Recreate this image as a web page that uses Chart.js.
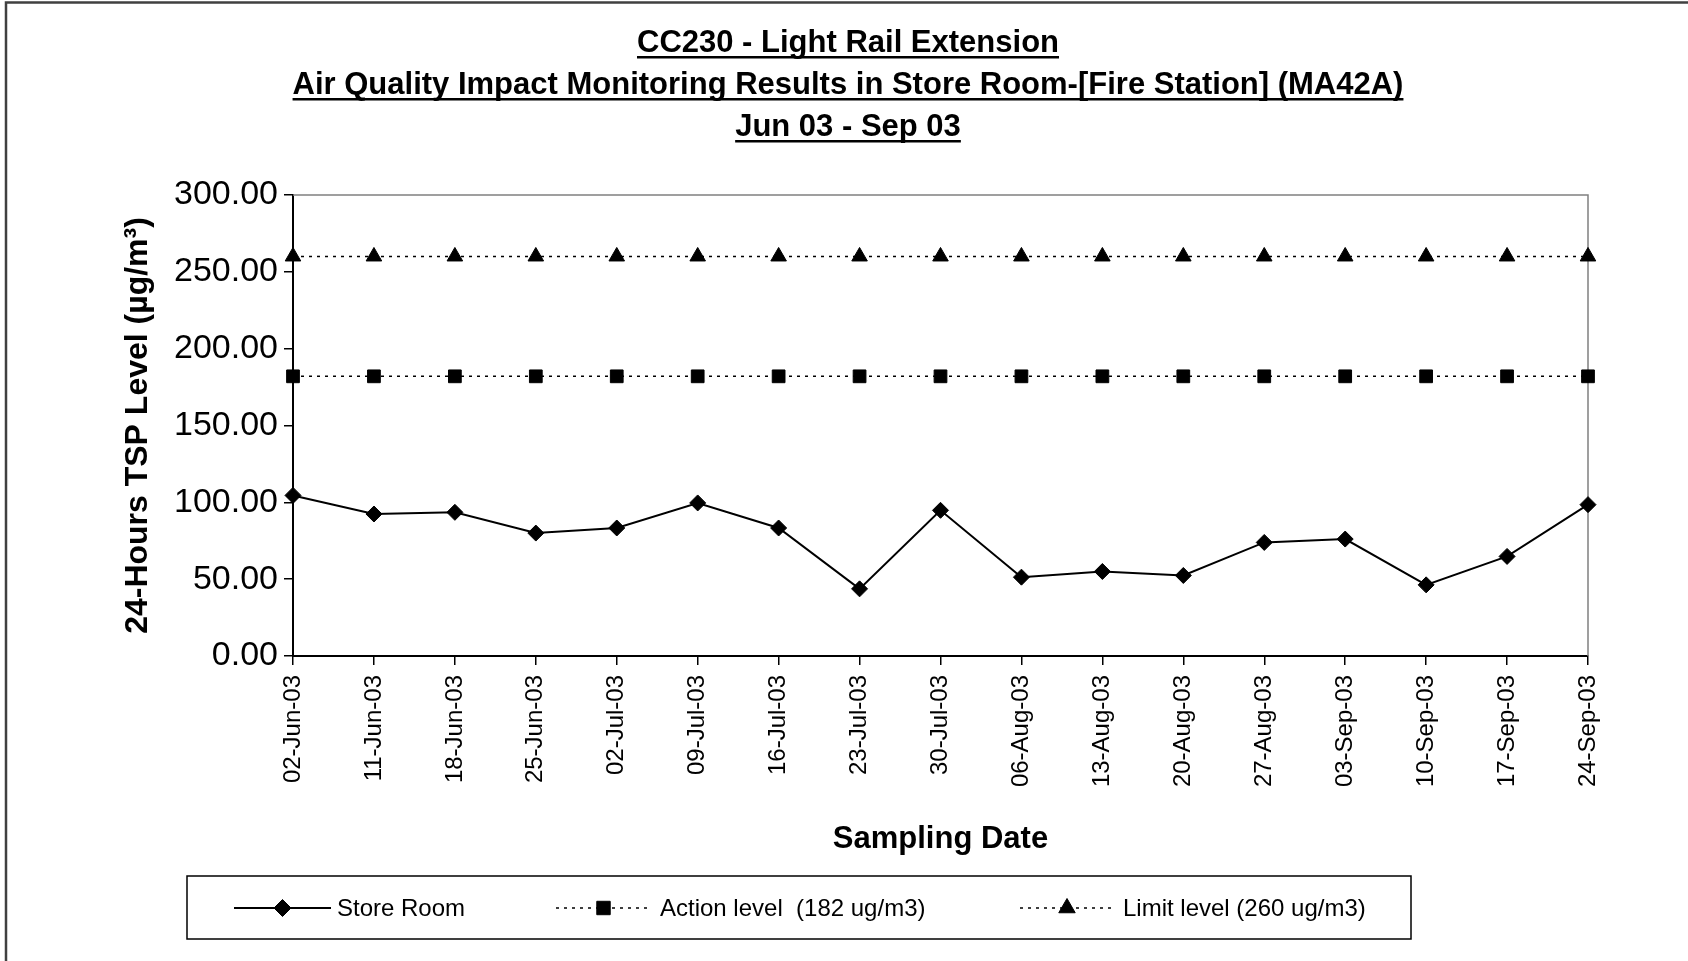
<!DOCTYPE html>
<html>
<head>
<meta charset="utf-8">
<title>CC230 - Light Rail Extension - MA42A</title>
<script src="https://cdn.jsdelivr.net/npm/chart.js@4.4.1/dist/chart.umd.min.js"></script>
<style>
  html, body { margin: 0; padding: 0; background: #ffffff; }
  canvas { display: block; }
</style>
</head>
<body>
<canvas id="grafico" width="1688" height="961"></canvas>
<script>
// fechas de muestreo (eje x)
const fechas = ['02-Jun-03', '11-Jun-03', '18-Jun-03', '25-Jun-03', '02-Jul-03', '09-Jul-03',
  '16-Jul-03', '23-Jul-03', '30-Jul-03', '06-Aug-03', '13-Aug-03', '20-Aug-03',
  '27-Aug-03', '03-Sep-03', '10-Sep-03', '17-Sep-03', '24-Sep-03'];

const storeRoom = [104.5, 92.4, 93.5, 80.0, 83.3, 99.6, 83.3, 43.7, 94.8,
  51.3, 55.0, 52.4, 73.9, 76.1, 46.3, 64.8, 98.5];

// niveles de referencia
const actionLevel = [182, 182, 182, 182, 182, 182, 182, 182, 182,
  182, 182, 182, 182, 182, 182, 182, 182];
const limitLevel = [260, 260, 260, 260, 260, 260, 260, 260, 260,
  260, 260, 260, 260, 260, 260, 260, 260];

const yMin = 0;
const yMax = 300;
const yStep = 50;

const titulo = [
  'CC230 - Light Rail Extension',
  'Air Quality Impact Monitoring Results in Store Room-[Fire Station] (MA42A)',
  'Jun 03 - Sep 03'
];

const FUENTE = '"Liberation Sans", Arial, Helvetica, sans-serif';

// dibuja un marcador (usa el helper de Chart.js si existe)
function marcador(ctx, estilo, r, x, y) {
  if (Chart.helpers && Chart.helpers.drawPoint) {
    Chart.helpers.drawPoint(ctx, { pointStyle: estilo, radius: r, rotation: 0, borderWidth: 1 }, x, y);
    return;
  }
  ctx.beginPath();
  if (estilo === 'rectRot') {
    ctx.moveTo(x - r, y); ctx.lineTo(x, y - r); ctx.lineTo(x + r, y); ctx.lineTo(x, y + r);
  } else if (estilo === 'rect') {
    const s = r * Math.SQRT1_2;
    ctx.rect(x - s, y - s, 2 * s, 2 * s);
  } else {
    ctx.moveTo(x, y - r); ctx.lineTo(x + r * 0.866, y + r / 2); ctx.lineTo(x - r * 0.866, y + r / 2);
  }
  ctx.closePath();
  ctx.fill();
  ctx.stroke();
}

// subrayado del titulo, borde del area, marco exterior y leyenda con recuadro
const extras = {
  id: 'extras',
  beforeDatasetsDraw(chart) {
    const { ctx, chartArea: a } = chart;
    ctx.save();
    ctx.strokeStyle = '#808080';
    ctx.lineWidth = 1.5;
    ctx.beginPath();
    ctx.moveTo(a.left, a.top);
    ctx.lineTo(a.right, a.top);
    ctx.lineTo(a.right, a.bottom);
    ctx.stroke();
    ctx.restore();
  },
  afterDraw(chart) {
    const ctx = chart.ctx;
    const tb = chart.titleBlock;
    const topts = chart.options.plugins.title;
    ctx.save();

    // subrayado
    ctx.font = 'bold ' + topts.font.size + 'px ' + FUENTE;
    ctx.fillStyle = '#000';
    const lh = topts.font.size * topts.font.lineHeight;
    const cx = (tb.left + tb.right) / 2;
    titulo.forEach((linea, i) => {
      const w = ctx.measureText(linea).width;
      const yc = tb.top + topts.padding.top + lh * (i + 0.5);
      ctx.fillRect(cx - w / 2, yc + 13, w, 2.5);
    });

    // marco exterior (solo se ve arriba e izquierda)
    ctx.strokeStyle = '#404040';
    ctx.lineWidth = 2.5;
    ctx.beginPath();
    ctx.moveTo(6, chart.height);
    ctx.lineTo(6, 2.5);
    ctx.lineTo(chart.width, 2.5);
    ctx.stroke();

    // leyenda
    ctx.strokeStyle = '#000';
    ctx.lineWidth = 1.5;
    ctx.strokeRect(187, 876, 1224, 63);
    const yL = 908;
    const items = [
      { ds: 0, x0: 234, x1: 331, tx: 337 },
      { ds: 1, x0: 556, x1: 651, tx: 660 },
      { ds: 2, x0: 1020, x1: 1114, tx: 1123 }
    ];
    ctx.font = '24px ' + FUENTE;
    ctx.textBaseline = 'middle';
    items.forEach(it => {
      const d = chart.data.datasets[it.ds];
      ctx.strokeStyle = '#000';
      ctx.lineWidth = d.borderWidth;
      ctx.setLineDash(d.borderDash || []);
      ctx.beginPath();
      ctx.moveTo(it.x0, yL);
      ctx.lineTo(it.x1, yL);
      ctx.stroke();
      ctx.setLineDash([]);
      ctx.fillStyle = '#000';
      ctx.lineWidth = 1;
      marcador(ctx, d.pointStyle, d.pointRadius + 0.5, (it.x0 + it.x1) / 2, yL);
      ctx.fillStyle = '#000';
      ctx.fillText(d.label, it.tx, yL + 1);
    });
    ctx.restore();
  }
};

new Chart(document.getElementById('grafico'), {
  type: 'line',
  data: {
    labels: fechas,
    datasets: [
      {
        label: 'Store Room',
        data: storeRoom,
        borderColor: '#000',
        backgroundColor: '#000',
        borderWidth: 2,
        pointStyle: 'rectRot',
        pointRadius: 8,
        pointBorderWidth: 1,
        pointBackgroundColor: '#000',
        pointBorderColor: '#000',
        tension: 0,
        clip: false
      },
      {
        label: 'Action level  (182 ug/m3)',
        data: actionLevel,
        borderColor: '#000',
        backgroundColor: '#000',
        borderWidth: 1.5,
        borderDash: [3, 5],
        pointStyle: 'rect',
        pointRadius: 9,
        pointBorderWidth: 1,
        pointBackgroundColor: '#000',
        pointBorderColor: '#000',
        tension: 0,
        clip: false
      },
      {
        label: 'Limit level (260 ug/m3)',
        data: limitLevel,
        borderColor: '#000',
        backgroundColor: '#000',
        borderWidth: 1.5,
        borderDash: [3, 5],
        pointStyle: 'triangle',
        pointRadius: 9,
        pointBorderWidth: 1,
        pointBackgroundColor: '#000',
        pointBorderColor: '#000',
        tension: 0,
        clip: false
      }
    ]
  },
  options: {
    responsive: false,
    animation: false,
    events: [],
    layout: { padding: { left: 108, right: 100, top: 0, bottom: 100 } },
    plugins: {
      legend: { display: false },
      tooltip: { enabled: false },
      title: {
        display: true,
        text: titulo,
        color: '#000',
        font: { family: FUENTE, size: 31, weight: 'bold', lineHeight: 42 / 31 },
        padding: { top: 22, bottom: 47 }
      }
    },
    scales: {
      x: {
        type: 'category',
        offset: false,
        afterFit(scale) { scale.height = 205; },
        grid: { drawOnChartArea: false, drawTicks: true, tickLength: 9, color: '#000', lineWidth: 1.5 },
        border: { display: true, color: '#000', width: 2 },
        ticks: {
          autoSkip: false,
          maxRotation: 90,
          minRotation: 90,
          padding: 10,
          color: '#000',
          font: { family: FUENTE, size: 24 }
        },
        title: {
          display: true,
          text: 'Sampling Date',
          color: '#000',
          font: { family: FUENTE, size: 31, weight: 'bold', lineHeight: 1.2 },
          padding: { top: 0, bottom: 3 }
        }
      },
      y: {
        min: yMin,
        max: yMax,
        afterFit(scale) { scale.width = 185; },
        grid: { drawOnChartArea: false, drawTicks: true, tickLength: 9, color: '#000', lineWidth: 1.5 },
        border: { display: true, color: '#000', width: 2 },
        ticks: {
          stepSize: yStep,
          padding: 6,
          color: '#000',
          font: { family: FUENTE, size: 34 },
          callback: v => Number(v).toFixed(2)
        },
        title: {
          display: true,
          text: '24-Hours TSP Level (µg/m³)',
          color: '#000',
          font: { family: FUENTE, size: 32, weight: 'bold', lineHeight: 1.2 },
          padding: { top: 11, bottom: 0 }
        }
      }
    }
  },
  plugins: [extras]
});
</script>
</body>
</html>
